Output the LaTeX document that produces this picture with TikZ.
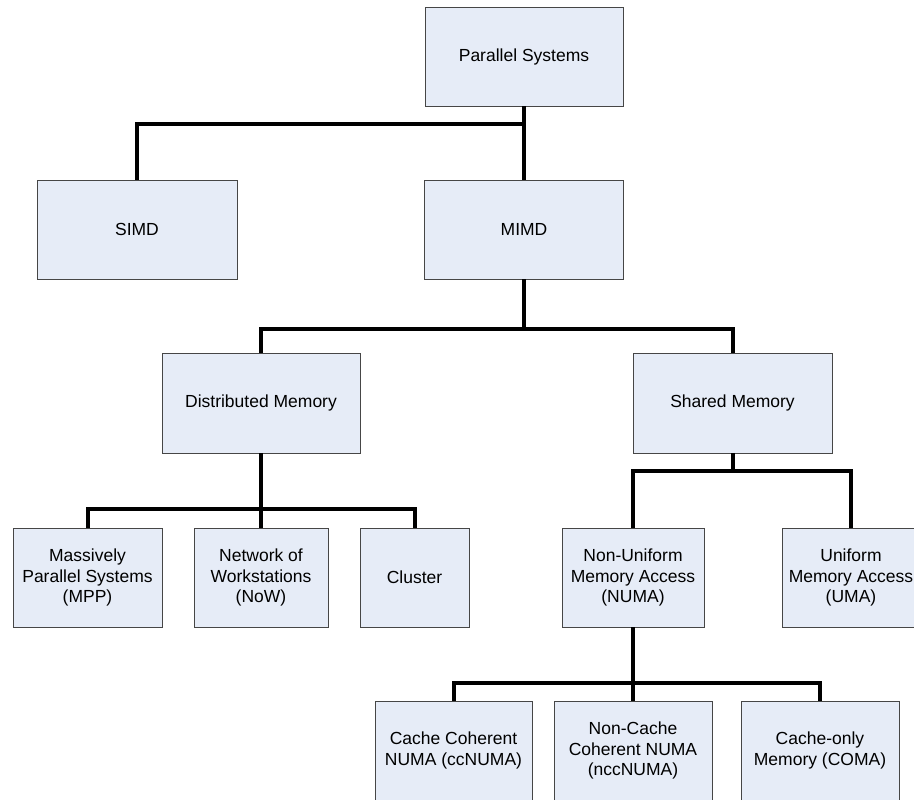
\documentclass[tikz,border=0pt]{standalone}
\usepackage{fontspec}
\setmainfont{Liberation Sans}
\definecolor{boxfill}{RGB}{230,236,247}
\definecolor{boxline}{RGB}{70,70,70}
\begin{document}
\begin{tikzpicture}[x=1pt,y=-1pt,
  box/.style={draw=boxline, line width=0.9pt, fill=boxfill, inner sep=0pt,
    align=center, font=\fontsize{17.5}{20.3}\selectfont},
  conn/.style={line width=4pt, draw=black}]
\useasboundingbox (0,0) rectangle (914,800);
\clip (0,0) rectangle (914,800);
\fill[white] (0,0) rectangle (914,800);

% nodes
\node[box, minimum width=198pt, minimum height=99pt] (ps) at (524,56.5) {Parallel Systems};
\node[box, minimum width=200pt, minimum height=99pt] (simd) at (137,229.5) {SIMD};
\node[box, minimum width=199pt, minimum height=99pt] (mimd) at (524,229.5) {MIMD};
\node[box, minimum width=198pt, minimum height=100pt] (dm) at (261,403) {Distributed Memory};
\node[box, minimum width=199pt, minimum height=100pt] (sm) at (732.5,403) {Shared Memory};
\node[box, minimum width=149pt, minimum height=99pt] (mpp) at (87.5,577.5) {Massively\\Parallel Systems\\(MPP)};
\node[box, minimum width=134pt, minimum height=99pt] (now) at (261,577.5) {Network of\\Workstations\\(NoW)};
\node[box, minimum width=109pt, minimum height=99pt] (cluster) at (414.5,577.5) {Cluster};
\node[box, minimum width=142pt, minimum height=99pt] (numa) at (633,577.5) {Non-Uniform\\Memory Access\\(NUMA)};
\node[box, minimum width=138pt, minimum height=99pt] (uma) at (851,577.5) {Uniform\\Memory Access\\(UMA)};
\node[box, minimum width=157pt, minimum height=99pt] (ccnuma) at (453.5,750.5) {Cache Coherent\\NUMA (ccNUMA)};
\node[box, minimum width=158pt, minimum height=99pt] (nccnuma) at (633,750.5) {Non-Cache\\Coherent NUMA\\(nccNUMA)};
\node[box, minimum width=158pt, minimum height=99pt] (coma) at (820,750.5) {Cache-only\\Memory (COMA)};

% junctions
\coordinate (j1) at (524,124);
\coordinate (j2) at (524,329);
\coordinate (j3) at (261,509);
\coordinate (j4) at (732.5,471);
\coordinate (j5) at (633,683);

% connectors
\draw[conn] (ps.south) -- (mimd.north);
\draw[conn] (j1) -| (simd.north);
\draw[conn] (mimd.south) -- (j2);
\draw[conn] (dm.north) |- (j2) -| (sm.north);
\draw[conn] (dm.south) -- (now.north);
\draw[conn] (mpp.north) |- (j3) -| (cluster.north);
\draw[conn] (sm.south) -- (j4);
\draw[conn] (numa.north) |- (j4) -| (uma.north);
\draw[conn] (numa.south) -- (nccnuma.north);
\draw[conn] (ccnuma.north) |- (j5) -| (coma.north);
\end{tikzpicture}
\end{document}
